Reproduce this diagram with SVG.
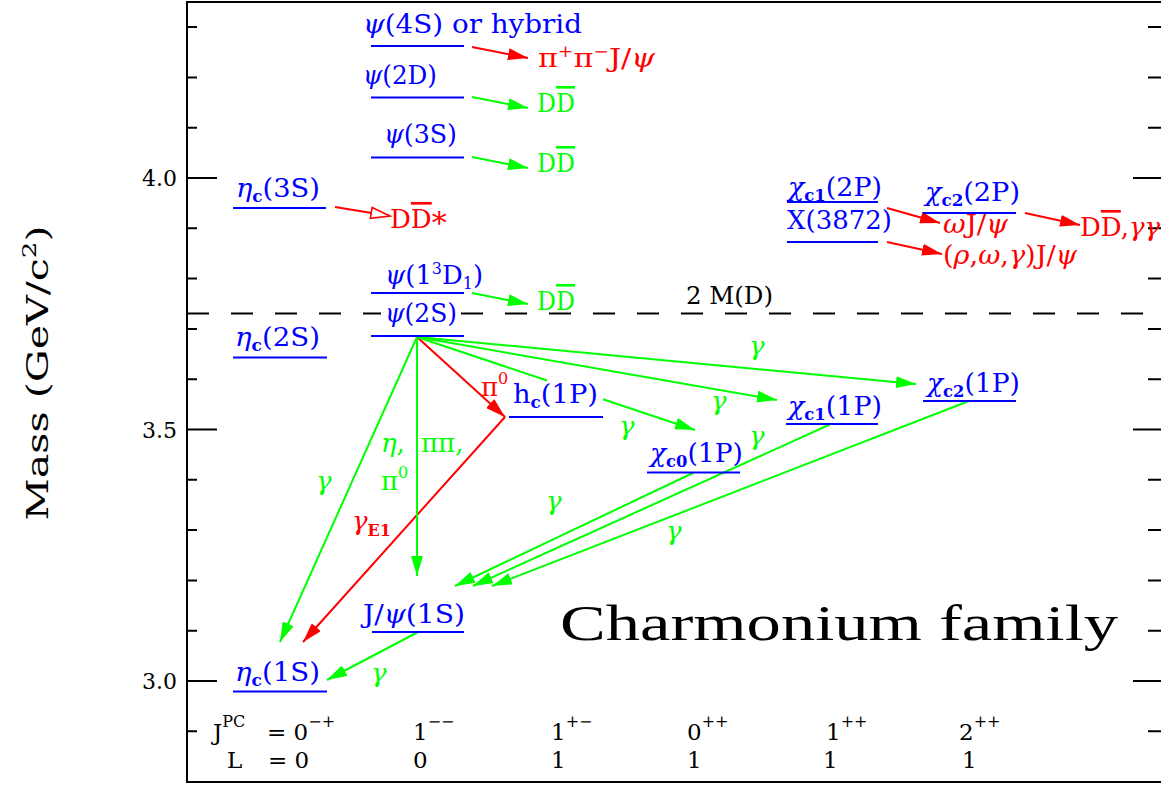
<svg xmlns="http://www.w3.org/2000/svg" width="1161" height="785" viewBox="0 0 1161 785">
<style>
text{font-family:"DejaVu Serif","Liberation Serif",serif;font-size:26px}
.b{fill:#0000ff}.g{fill:#00ff00}.r{fill:#ff0000}.k{fill:#000000}
.lv{stroke:#0000ff;stroke-width:2}
.cg{stroke:#00ff00;stroke-width:2;fill:none}
.cr{stroke:#ff0000;stroke-width:2;fill:none}
.ax{stroke:#000000;stroke-width:2;fill:none}
.i{font-style:italic}
.s{font-size:16px;font-weight:bold}
.p{font-size:16px}
.ov{text-decoration:overline}
.ag{marker-end:url(#ag)}
.ar{marker-end:url(#ar)}
</style>
<defs>
<marker id="ag" markerUnits="userSpaceOnUse" viewBox="0 0 20 12" markerWidth="20" markerHeight="12" refX="20" refY="6" orient="auto"><path d="M0,0 L20,6 L0,12 z" fill="#00ff00"/></marker>
<marker id="ar" markerUnits="userSpaceOnUse" viewBox="0 0 20 12" markerWidth="20" markerHeight="12" refX="20" refY="6" orient="auto"><path d="M0,0 L20,6 L0,12 z" fill="#ff0000"/></marker>
<marker id="aro" markerUnits="userSpaceOnUse" viewBox="0 0 22 14" markerWidth="22" markerHeight="14" refX="20" refY="7" orient="auto"><path d="M1,1.5 L20,7 L1,12.5 z" fill="#ffffff" stroke="#ff0000" stroke-width="1.6"/></marker>
</defs>
<rect width="1161" height="785" fill="#ffffff"/>

<g id="axes">
<rect class="ax" x="187" y="2" width="975" height="780"/>
<path class="ax" d="M187,27.1h10M187,77.4h10M187,127.7h10M187,178h30M187,228.3h10M187,278.6h10M187,328.9h10M187,379.2h10M187,429.5h30M187,479.8h10M187,530.1h10M187,580.4h10M187,630.7h10M187,681h30M187,731.3h10"/>
<path class="ax" d="M1162,27.1h-14M1162,77.4h-14M1162,127.7h-14M1162,178h-29M1162,228.3h-14M1162,278.6h-14M1162,328.9h-14M1162,379.2h-14M1162,429.5h-29M1162,479.8h-14M1162,530.1h-14M1162,580.4h-14M1162,630.7h-14M1162,681h-29M1162,731.3h-14"/>
<text class="k" x="177" y="186" text-anchor="end" style="font-size:22px">4.0</text>
<text class="k" x="177" y="437.5" text-anchor="end" style="font-size:22px">3.5</text>
<text class="k" x="177" y="689" text-anchor="end" style="font-size:22px">3.0</text>
<text class="k" transform="translate(48,373) rotate(-90)" text-anchor="middle" style="font-size:30px" textLength="295" lengthAdjust="spacingAndGlyphs">Mass (GeV/c<tspan style="font-size:19px" dy="-12">2</tspan><tspan dy="12">)</tspan></text>
</g>

<g id="threshold">
<path d="M187,313.5 H381 M461,313.5 H1161" stroke="#000" stroke-width="2" stroke-dasharray="22 22" fill="none"/>
<text class="k" x="686" y="304" style="font-size:24px" textLength="87" lengthAdjust="spacingAndGlyphs">2 M(D)</text>
</g>

<g id="quantum-numbers" class="k">
<text x="213" y="740" style="font-size:23px">J<tspan class="p" dy="-13">PC</tspan><tspan x="267" dy="13">= 0</tspan><tspan class="p" dy="-13">−+</tspan></text>
<text x="227" y="768" style="font-size:23px">L<tspan x="268">= 0</tspan></text>
<text x="413" y="740" style="font-size:23px">1<tspan class="p" dy="-13">−−</tspan></text>
<text x="551" y="740" style="font-size:23px">1<tspan class="p" dy="-13">+−</tspan></text>
<text x="687" y="740" style="font-size:23px">0<tspan class="p" dy="-13">++</tspan></text>
<text x="826" y="740" style="font-size:23px">1<tspan class="p" dy="-13">++</tspan></text>
<text x="959" y="740" style="font-size:23px">2<tspan class="p" dy="-13">++</tspan></text>
<text x="413" y="768" style="font-size:23px">0</text>
<text x="551" y="768" style="font-size:23px">1</text>
<text x="687" y="768" style="font-size:23px">1</text>
<text x="823" y="768" style="font-size:23px">1</text>
<text x="962" y="768" style="font-size:23px">1</text>
</g>

<text id="title" class="k" x="560" y="640" style="font-family:'Liberation Serif',serif;font-size:50px" textLength="558" lengthAdjust="spacingAndGlyphs">Charmonium family</text>

<g id="connectors">
<path class="cr ar" d="M472,47 L528,58"/>
<path class="cr" marker-end="url(#aro)" d="M335,207 L390,216"/>
<path class="cr ar" d="M887,208 L940,223"/>
<path class="cr ar" d="M887,242 L942,254"/>
<path class="cr ar" d="M1025,213 L1080,225"/>
<path class="cr ar" d="M417,337 L505,417"/>
<path class="cr ar" d="M505,417 L303,642"/>
<path class="cg ag" d="M472,97 L528,108"/>
<path class="cg ag" d="M472,157 L528,168"/>
<path class="cg ag" d="M472,293 L528,304"/>
<path class="cg ag" d="M417,337 L280,642"/>
<path class="cg ag" d="M417,337 L417,576"/>
<path class="cg" d="M417,337 L547,380.5"/>
<path class="cg ag" d="M603,399.2 L695,430"/>
<path class="cg ag" d="M417,337 L777,400"/>
<path class="cg ag" d="M417,337 L916,384"/>
<path class="cg ag" d="M693,473 L455,586"/>
<path class="cg ag" d="M831,424 L473,586"/>
<path class="cg ag" d="M969,401 L492,586"/>
<path class="cg ag" d="M418,632 L327,680"/>
</g>

<g id="connector-labels">
<text class="g i" x="749" y="355">γ</text>
<text class="g i" x="711" y="410">γ</text>
<text class="g i" x="619" y="435">γ</text>
<text class="g i" x="749" y="445">γ</text>
<text class="g i" x="546" y="510">γ</text>
<text class="g i" x="666" y="540">γ</text>
<text class="g i" x="316" y="490">γ</text>
<text class="g i" x="371" y="682">γ</text>
<text class="g" x="381" y="452"><tspan class="i">η</tspan>,<tspan x="421">ππ,</tspan></text>
<text class="g" x="381" y="490">π<tspan class="p" dy="-12">0</tspan></text>
<text class="r" x="481" y="396">π<tspan class="p" dy="-12">0</tspan></text>
<text class="r" x="352" y="530"><tspan class="i">γ</tspan><tspan class="s" dy="6">E1</tspan></text>
</g>

<g id="psi4S"><line class="lv" x1="371" y1="46" x2="464" y2="46"/><text class="b" x="363" y="33" textLength="219" lengthAdjust="spacingAndGlyphs"><tspan class="i">ψ</tspan>(4S) or hybrid</text></g>
<g id="pipiJpsi"><text class="r" x="538" y="67" textLength="117" lengthAdjust="spacingAndGlyphs">π<tspan class="p" dy="-10">+</tspan><tspan dy="10">π</tspan><tspan class="p" dy="-10">−</tspan><tspan dy="10">J/</tspan><tspan class="i">ψ</tspan></text></g>
<g id="psi2D"><line class="lv" x1="371" y1="97.5" x2="464" y2="97.5"/><text class="b" x="363" y="84" textLength="74" lengthAdjust="spacingAndGlyphs"><tspan class="i">ψ</tspan>(2D)</text></g>
<g id="dd-2D"><text class="g" x="537" y="112" textLength="38" lengthAdjust="spacingAndGlyphs">D<tspan class="ov">D</tspan></text></g>
<g id="psi3S"><line class="lv" x1="371" y1="157.5" x2="464" y2="157.5"/><text class="b" x="384" y="143" textLength="73" lengthAdjust="spacingAndGlyphs"><tspan class="i">ψ</tspan>(3S)</text></g>
<g id="dd-3S"><text class="g" x="537" y="172" textLength="38" lengthAdjust="spacingAndGlyphs">D<tspan class="ov">D</tspan></text></g>
<g id="etac3S"><line class="lv" x1="233" y1="208" x2="326" y2="208"/><text class="b" x="236" y="197" textLength="84" lengthAdjust="spacingAndGlyphs"><tspan class="i">η</tspan><tspan class="s" dy="5">c</tspan><tspan dy="-5">(3S)</tspan></text></g>
<g id="ddstar"><text class="r" x="390" y="228">D<tspan class="ov">D</tspan><tspan dy="5" style="font-size:30px">*</tspan></text></g>
<g id="chic1-2P"><line class="lv" x1="787" y1="202" x2="878" y2="202"/><text class="b" x="788" y="196" textLength="94" lengthAdjust="spacingAndGlyphs"><tspan class="i">χ</tspan><tspan class="s" dy="5">c1</tspan><tspan dy="-5">(2P)</tspan></text></g>
<g id="X3872"><line class="lv" x1="787" y1="242" x2="878" y2="242"/><text class="b" x="787" y="229" textLength="105" lengthAdjust="spacingAndGlyphs">X(3872)</text></g>
<g id="chic2-2P"><line class="lv" x1="923" y1="213" x2="1016" y2="213"/><text class="b" x="925" y="201" textLength="95" lengthAdjust="spacingAndGlyphs"><tspan class="i">χ</tspan><tspan class="s" dy="5">c2</tspan><tspan dy="-5">(2P)</tspan></text></g>
<g id="omegaJpsi"><text class="r" x="943" y="233" textLength="65" lengthAdjust="spacingAndGlyphs"><tspan class="i">ω</tspan>J/<tspan class="i">ψ</tspan></text></g>
<g id="rhoJpsi"><text class="r" x="943" y="264" textLength="134" lengthAdjust="spacingAndGlyphs">(<tspan class="i">ρ</tspan>,<tspan class="i">ω</tspan>,<tspan class="i">γ</tspan>)J/<tspan class="i">ψ</tspan></text></g>
<g id="dd-gg"><text class="r" x="1080" y="236">D<tspan class="ov">D</tspan>,<tspan class="i">γγ</tspan></text></g>
<g id="psi1D"><line class="lv" x1="371" y1="293" x2="464" y2="293"/><text class="b" x="385" y="284" textLength="98" lengthAdjust="spacingAndGlyphs"><tspan class="i">ψ</tspan>(1<tspan class="p" dy="-10">3</tspan><tspan dy="10">D</tspan><tspan class="p" dy="5">1</tspan><tspan dy="-5">)</tspan></text></g>
<g id="dd-1D"><text class="g" x="537" y="310" textLength="38" lengthAdjust="spacingAndGlyphs">D<tspan class="ov">D</tspan></text></g>
<g id="psi2S"><line class="lv" x1="371" y1="336" x2="464" y2="336"/><text class="b" x="385" y="322" textLength="72" lengthAdjust="spacingAndGlyphs"><tspan class="i">ψ</tspan>(2S)</text></g>
<g id="etac2S"><line class="lv" x1="233" y1="357.5" x2="327" y2="357.5"/><text class="b" x="235" y="346" textLength="85" lengthAdjust="spacingAndGlyphs"><tspan class="i">η</tspan><tspan class="s" dy="5">c</tspan><tspan dy="-5">(2S)</tspan></text></g>
<g id="hc1P"><line class="lv" x1="509" y1="417" x2="603" y2="417"/><text class="b" x="513" y="403" textLength="85" lengthAdjust="spacingAndGlyphs">h<tspan class="s" dy="5">c</tspan><tspan dy="-5">(1P)</tspan></text></g>
<g id="chic0-1P"><line class="lv" x1="647" y1="472.5" x2="740" y2="472.5"/><text class="b" x="650" y="462" textLength="93" lengthAdjust="spacingAndGlyphs"><tspan class="i">χ</tspan><tspan class="s" dy="5">c0</tspan><tspan dy="-5">(1P)</tspan></text></g>
<g id="chic1-1P"><line class="lv" x1="786" y1="424" x2="878" y2="424"/><text class="b" x="788" y="415" textLength="94" lengthAdjust="spacingAndGlyphs"><tspan class="i">χ</tspan><tspan class="s" dy="5">c1</tspan><tspan dy="-5">(1P)</tspan></text></g>
<g id="chic2-1P"><line class="lv" x1="923" y1="401" x2="1016" y2="401"/><text class="b" x="927" y="392" textLength="93" lengthAdjust="spacingAndGlyphs"><tspan class="i">χ</tspan><tspan class="s" dy="5">c2</tspan><tspan dy="-5">(1P)</tspan></text></g>
<g id="jpsi1S"><line class="lv" x1="372" y1="632" x2="464" y2="632"/><text class="b" x="363" y="623" textLength="102" lengthAdjust="spacingAndGlyphs">J/<tspan class="i">ψ</tspan>(1S)</text></g>
<g id="etac1S"><line class="lv" x1="233" y1="691.5" x2="327" y2="691.5"/><text class="b" x="235" y="681" textLength="85" lengthAdjust="spacingAndGlyphs"><tspan class="i">η</tspan><tspan class="s" dy="5">c</tspan><tspan dy="-5">(1S)</tspan></text></g>
</svg>
